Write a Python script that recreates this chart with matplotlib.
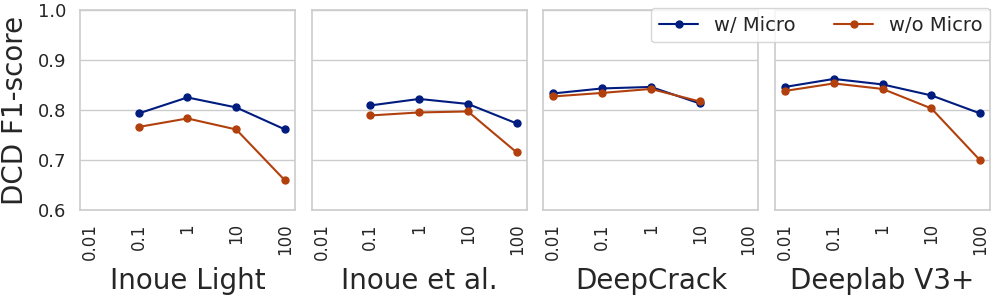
import matplotlib

matplotlib.use("Agg")

import matplotlib.pyplot as plt
import numpy as np
import seaborn as sns

sns.set_theme(style="whitegrid")
plt.rcParams["font.family"] = ["DejaVu Sans"]

weights = ["0.01", "0.1", "1", "10", "100"]
models = ["Inoue Light", "Inoue et al.", "DeepCrack", "Deeplab V3+"]

with_micro = [
    [np.nan, 0.793, 0.825, 0.805, 0.761],
    [np.nan, 0.809, 0.822, 0.812, 0.773],
    [0.833, 0.843, 0.846, 0.813, np.nan],
    [0.846, 0.862, 0.851, 0.829, 0.793],
]
without_micro = [
    [np.nan, 0.766, 0.783, 0.761, 0.659],
    [np.nan, 0.789, 0.795, 0.797, 0.715],
    [0.827, 0.834, 0.842, 0.817, np.nan],
    [0.838, 0.853, 0.842, 0.803, 0.699],
]

blue = "#001c7f"
orange = "#b1400d"

fig, axes = plt.subplots(1, 4, figsize=(10, 3), dpi=100, sharey=True)
fig.subplots_adjust(left=0.08, right=0.99, top=0.967, bottom=0.3, wspace=0.079)

x = np.arange(len(weights))
for i, ax in enumerate(axes):
    ax.plot(x, with_micro[i], color=blue, marker="o", markersize=5, linewidth=1.5, label="w/ Micro")
    ax.plot(x, without_micro[i], color=orange, marker="o", markersize=5, linewidth=1.5, label="w/o Micro")
    ax.set_xlim(-0.2, 4.2)
    ax.set_ylim(0.6, 1.0)
    ax.set_xticks(x)
    ax.set_xticklabels(weights, rotation=90, fontsize=12)
    ax.set_xlabel(models[i], fontsize=20, labelpad=5)
    ax.grid(axis="x", visible=False)
    ax.grid(axis="y", color="#cccccc", linewidth=1.0)
    ax.tick_params(axis="y", labelsize=13, pad=4)
    for spine in ax.spines.values():
        spine.set_color("#cccccc")
        spine.set_linewidth(1.2)

axes[0].set_yticks([0.6, 0.7, 0.8, 0.9, 1.0])
axes[0].set_ylabel("DCD F1-score", fontsize=20, labelpad=6)

axes[3].legend(loc="upper right", ncol=2, fontsize=14, bbox_to_anchor=(1.0, 1.01),
               borderaxespad=0.0)

plt.savefig("out.png", dpi=100)
plt.close()
